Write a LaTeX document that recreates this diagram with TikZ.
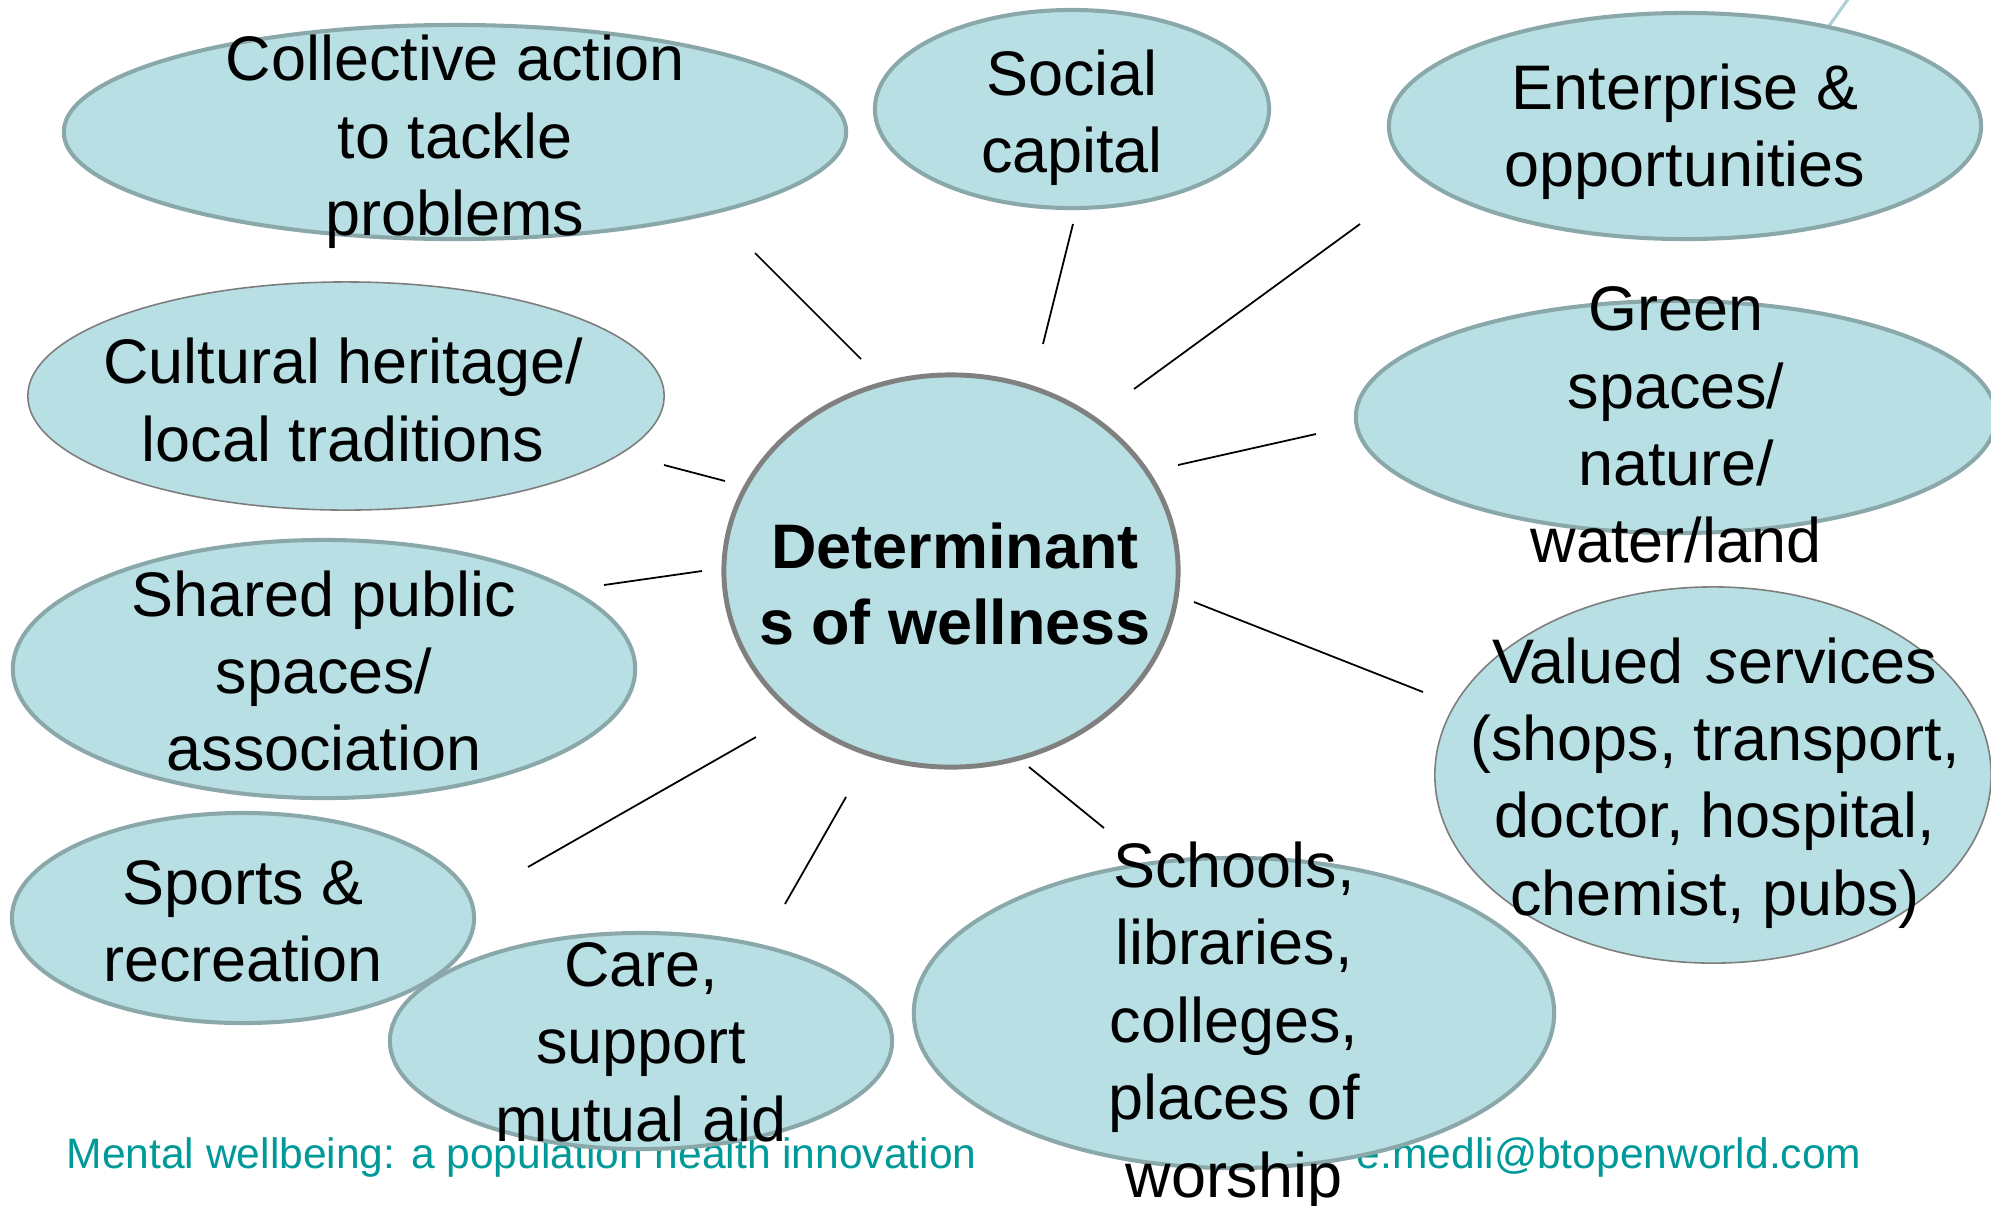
\documentclass[tikz,border=0pt]{standalone}
\usepackage{fontspec}
\setmainfont{Liberation Sans}
\usetikzlibrary{shapes.geometric}
\definecolor{blobfill}{RGB}{184,223,227}
\definecolor{blobedge}{RGB}{138,167,170}
\definecolor{hubedge}{RGB}{128,128,128}
\definecolor{thinedge}{RGB}{125,125,125}
\definecolor{foot}{RGB}{0,153,153}
\definecolor{stray}{RGB}{175,208,212}
\begin{document}
\begin{tikzpicture}[x=0.01cm,y=-0.01cm,
 blob/.style={ellipse, fill=blobfill, draw=blobedge, line width=1.15pt, inner sep=0pt},
 thinblob/.style={blob, draw=thinedge, line width=0.45pt},
 hub/.style={blob, draw=hubedge, line width=1.4pt},
 lbl/.style={align=center, font=\fontsize{17.9pt}{22pt}\selectfont, inner sep=0pt},
 hublbl/.style={align=center, inner sep=0pt, font=\fontsize{17.9pt}{21.6pt}\selectfont\bfseries},
 spoke/.style={draw=black, line width=0.5pt},
 foottext/.style={text=foot, font=\fontsize{12.1pt}{14pt}\selectfont, inner sep=0pt}]
\useasboundingbox (0,0) rectangle (1991,1205);
\fill[white] (0,0) rectangle (1991,1205);

% footer (behind everything)
\node[foottext, anchor=base west] (foot1) at (66,1168) {Mental wellbeing: a population health innovation};
\node[foottext, anchor=base east] (foot2) at (1862,1168) {e.medli@btopenworld.com};

% stray line at top right
\coordinate (s1) at (1829,26);
\coordinate (s2) at (1851,-5);
\draw[stray, line width=0.9pt] (s1) -- (s2);

% ellipses and labels
\node[blob, minimum width=7.82cm, minimum height=2.14cm] (coll) at (455,132) {};
\node[lbl] (collt) at (455,142) {Collective action\\to tackle\\problems};

\node[blob, minimum width=3.94cm, minimum height=1.98cm] (soc) at (1072,109) {};
\node[lbl] (soct) at (1072,118) {Social\\capital};

\node[blob, minimum width=5.92cm, minimum height=2.26cm] (ent) at (1685,126) {};
\node[lbl] (entt) at (1685,132) {Enterprise \&\\opportunities};

\node[thinblob, minimum width=6.36cm, minimum height=2.28cm] (cult) at (346,396) {};
\node[lbl] (cultt) at (343,400) {Cultural heritage/\\local traditions};

\node[blob, minimum width=6.40cm, minimum height=2.32cm] (green) at (1676,417) {};
\node[lbl] (greent) at (1676,425) {Green\\spaces/\\nature/\\water/land};

\node[blob, minimum width=6.22cm, minimum height=2.58cm] (shared) at (324,669) {};
\node[lbl] (sharedt) at (324,671) {Shared public\\spaces/\\association};

\node[hub, minimum width=4.54cm, minimum height=3.92cm] (hub) at (951,571) {};
\node[hublbl] (hubt) at (955,584) {Determinant\\s of wellness};

\node[thinblob, minimum width=5.56cm, minimum height=3.76cm] (valued) at (1713,775) {};
\node[lbl] (valuedt) at (1715,783) {Valued\hspace{1.5pt} \textit{s}ervices\\(shops, transport,\\doctor, hospital,\\chemist, pubs)};

\node[blob, minimum width=4.62cm, minimum height=2.10cm] (sports) at (243,918) {};
\node[lbl] (sportst) at (243,921) {Sports \&\\recreation};

\node[blob, minimum width=5.02cm, minimum height=2.16cm] (care) at (641,1041) {};
\node[lbl] (caret) at (641,1042) {Care,\\support\\mutual aid};

\node[blob, minimum width=6.40cm, minimum height=3.10cm] (schools) at (1234,1013) {};
\node[lbl] (schoolst) at (1234,1026) {Schools,\\libraries,\\colleges,\\places of\\worship};

% spokes (free-floating short lines between hub and each ellipse)
\coordinate (a1) at (755,253);  \coordinate (b1) at (861,359);
\coordinate (a2) at (1073,224); \coordinate (b2) at (1043,344);
\coordinate (a3) at (1360,224); \coordinate (b3) at (1134,389);
\coordinate (a4) at (1316,434); \coordinate (b4) at (1178,465);
\coordinate (a5) at (664,465);  \coordinate (b5) at (725,481);
\coordinate (a6) at (604,585);  \coordinate (b6) at (702,571);
\coordinate (a7) at (1194,602); \coordinate (b7) at (1423,692);
\coordinate (a8) at (528,867);  \coordinate (b8) at (756,737);
\coordinate (a9) at (785,904);  \coordinate (b9) at (846,797);
\coordinate (a10) at (1029,767); \coordinate (b10) at (1104,828);
\foreach \i in {1,...,10} {\draw[spoke] (a\i) -- (b\i);}
\end{tikzpicture}
\end{document}
